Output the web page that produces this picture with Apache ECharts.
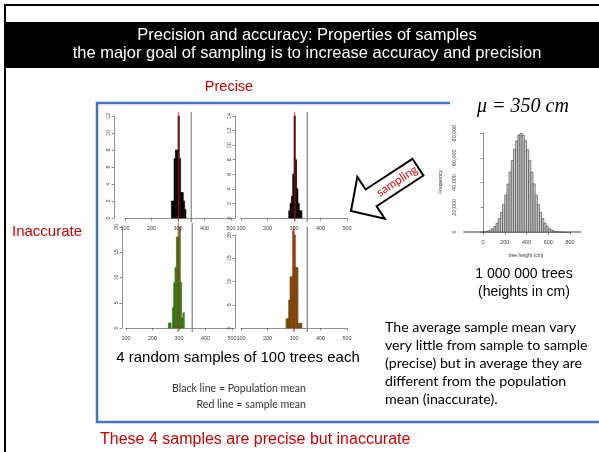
<!DOCTYPE html>
<html>
<head>
<meta charset="utf-8">
<script src="https://cdn.jsdelivr.net/npm/echarts@6/dist/echarts.min.js"></script>
<style>
  html, body { margin: 0; padding: 0; background: #fff; }
  #chart { width: 599px; height: 452px; }
</style>
</head>
<body>
<div id="chart"></div>
<script>
// sample histograms (4 random samples of 100 trees), bins of 5 cm
var sampleBins = [260, 265, 270, 275, 280, 285, 290, 295, 300, 305, 310, 315, 320, 325];
var sampleBinWidth = 5;
var countsTL = [0, 0, 0, 2, 2, 7, 8, 8, 12, 7, 3, 3, 2, 1];
var countsTR = [0, 0, 0, 0, 1, 2, 3, 6, 14, 8, 4, 2, 1, 1];
var countsBL = [1, 1, 0, 4, 9, 12, 18, 18, 20, 9, 2, 3, 0, 0];
var countsBR = [0, 0, 2, 2, 6, 11, 11, 21, 20, 13, 13, 1, 1, 1];
var sampleMeans = [302, 303, 297, 299];
var populationMean = 350;

// population histogram (1 000 000 trees), bins of 20 cm
var popBins = [-180, -160, -140, -120, -100, -80, -60, -40, -20, 0, 20, 40, 60, 80, 100, 120, 140, 160, 180, 200,
  220, 240, 260, 280, 300, 320, 340, 360, 380, 400, 420, 440, 460, 480, 500, 520, 540, 560, 580, 600,
  620, 640, 660, 680, 700, 720, 740, 760, 780, 800, 820, 840, 860, 880];
var popBinWidth = 20;
var popCounts = [0, 0, 0, 1, 2, 12, 27, 58, 120, 240, 470, 890, 1600, 2700, 4500, 7100, 10800, 15800, 22100, 29900,
  38800, 48500, 57800, 66800, 73600, 78300, 79600, 78200, 73800, 66600, 57900, 48300, 38900, 29800, 22100, 15800, 10800, 7100, 4500, 2700,
  1600, 890, 470, 240, 120, 58, 27, 12, 5, 2, 1, 0, 0, 0];

var sampleTicksX = [100, 500, 100];   // min, max, interval
var popTicksX = [0, 800, 200];

function histData(bins, counts, w) {
  return bins.map(function (b, i) { return [b, b + w, counts[i]]; });
}

function histSeries(idx, data, fill, stroke, keepEmpty) {
  return {
    type: 'custom', xAxisIndex: idx, yAxisIndex: idx, data: data, silent: true,
    renderItem: function (params, api) {
      if (!keepEmpty && api.value(2) === 0) return null;
      var p0 = api.coord([api.value(0), api.value(2)]);
      var p1 = api.coord([api.value(1), 0]);
      return {
        type: 'rect',
        shape: { x: p0[0], y: p0[1], width: p1[0] - p0[0], height: p1[1] - p0[1] },
        style: { fill: fill, stroke: stroke, lineWidth: 0.6 }
      };
    }
  };
}

function vline(idx, xv, ymax, color, width) {
  return {
    type: 'custom', xAxisIndex: idx, yAxisIndex: idx, silent: true,
    data: [[xv, -0.04 * ymax, 1.04 * ymax]],
    renderItem: function (params, api) {
      var a = api.coord([api.value(0), api.value(1)]);
      var b = api.coord([api.value(0), api.value(2)]);
      return {
        type: 'line',
        shape: { x1: a[0], y1: a[1], x2: b[0], y2: b[1] },
        style: { stroke: color, lineWidth: width }
      };
    }
  };
}

var axisCommon = {
  axisLine: { show: true, lineStyle: { color: '#444', width: 0.6 } },
  axisTick: { show: true, length: 2.5, lineStyle: { color: '#444', width: 0.6 } },
  splitLine: { show: false },
  axisLabel: { fontSize: 5.5, color: '#444', margin: 3, fontFamily: 'Liberation Sans' }
};

function xAx(idx, t, off) {
  return Object.assign({}, axisCommon, {
    type: 'value', gridIndex: idx, min: t[0], max: t[1], interval: t[2], offset: off
  });
}
function yAx(idx, max, interval, off) {
  var a = Object.assign({}, axisCommon, {
    type: 'value', gridIndex: idx, min: 0, max: max, interval: interval, offset: off
  });
  a.axisLabel = Object.assign({}, axisCommon.axisLabel, { rotate: 90 });
  return a;
}

var maxTL = Math.max.apply(null, countsTL);
var maxTR = Math.max.apply(null, countsTR);
var maxBL = Math.max.apply(null, countsBL);
var maxBR = Math.max.apply(null, countsBR);

var red = '#cc0000';
var txt = function (text, x, y, font, fill, align) {
  return { type: 'text', silent: true, style: { text: text, x: x, y: y, font: font, fill: fill || '#000',
    textAlign: align || 'left', textVerticalAlign: 'middle' } };
};

var blue = '#4472c4';
var arrowPts = [[0, 0], [24, -25], [24, -10], [80, -10], [80, 10], [24, 10], [24, 25]];
var meanRed = 'rgba(230,20,20,0.6)';

var option = {
  backgroundColor: '#fff',
  animation: false,
  grid: [
    { left: 125, top: 116, width: 106, height: 102 },
    { left: 241, top: 116, width: 106, height: 102 },
    { left: 126, top: 227, width: 106, height: 101 },
    { left: 241, top: 235, width: 106, height: 93 },
    { left: 483, top: 133, width: 87, height: 99 }
  ],
  xAxis: [
    xAx(0, sampleTicksX, 4), xAx(1, sampleTicksX, 4), xAx(2, sampleTicksX, 4), xAx(3, sampleTicksX, 4),
    xAx(4, popTicksX, 4)
  ],
  yAxis: [
    yAx(0, 12, 2, 11), yAx(1, 14, 2, 6), yAx(2, 20, 5, 4), yAx(3, 20, 5, 6), yAx(4, 80000, 20000, 23)
  ],
  series: [
    histSeries(0, histData(sampleBins, countsTL, sampleBinWidth), '#000', '#000'),
    histSeries(1, histData(sampleBins, countsTR, sampleBinWidth), '#000', '#000'),
    histSeries(2, histData(sampleBins, countsBL, sampleBinWidth), '#3e9a1c', '#245c0c'),
    histSeries(3, histData(sampleBins, countsBR, sampleBinWidth), '#8b5c0a', '#5c3a04'),
    histSeries(4, histData(popBins, popCounts, popBinWidth), '#cfcfcf', '#3a3a3a', true),
    vline(0, populationMean, maxTL, '#8a8a8a', 1.3),
    vline(1, populationMean, maxTR, '#8a8a8a', 1.3),
    vline(2, populationMean, maxBL, '#8a8a8a', 1.3),
    vline(3, populationMean, maxBR, '#8a8a8a', 1.3),
    vline(0, sampleMeans[0], maxTL, meanRed, 1.4),
    vline(1, sampleMeans[1], maxTR, meanRed, 1.4),
    vline(2, sampleMeans[2], maxBL, meanRed, 1.4),
    vline(3, sampleMeans[3], maxBR, meanRed, 1.4)
  ],
  graphic: [
    // slide frame and title bar
    { type: 'polyline', silent: true, shape: { points: [[5, 452], [5, 5], [599, 5]] }, style: { stroke: '#000', lineWidth: 2, fill: null } },
    { type: 'rect', silent: true, shape: { x: 5, y: 22, width: 594, height: 46 }, style: { fill: '#000' } },
    txt('Precision and accuracy: Properties of samples', 307, 35, '16.5px "Liberation Sans"', '#fff', 'center'),
    txt('the major goal of sampling is to increase accuracy and precision', 307, 53, '16.5px "Liberation Sans"', '#fff', 'center'),
    // blue frame
    { type: 'polyline', silent: true, shape: { points: [[450, 103], [97, 103], [97, 422], [599, 422]] }, style: { stroke: blue, lineWidth: 2.5, fill: null } },
    txt('Precise', 229, 87, '14.5px "Liberation Sans"', red, 'center'),
    txt('Inaccurate', 12, 232, '15px "Liberation Sans"', red, 'left'),
    txt('These 4 samples are precise but inaccurate', 100, 440, '16px "Liberation Sans"', red, 'left'),
    // population side
    txt('\u03bc = 350 cm', 523, 107, 'italic 20px "Liberation Serif"', '#000', 'center'),
    { type: 'text', silent: true, x: 441, y: 182, rotation: Math.PI / 2,
      style: { text: 'Frequency', font: '5px "Liberation Sans"', fill: '#333', textAlign: 'center', textVerticalAlign: 'middle' } },
    txt('tree height (cm)', 526, 256, '5px "Liberation Sans"', '#333', 'center'),
    txt('1 000 000 trees', 524, 274, '14px "Liberation Sans"', '#000', 'center'),
    txt('(heights in cm)', 524, 292, '14px "Liberation Sans"', '#000', 'center'),
    txt('The average sample mean vary', 385, 327, '14.2px Lato', '#000', 'left'),
    txt('very little from sample to sample', 385, 345, '14.2px Lato', '#000', 'left'),
    txt('(precise) but in average they are', 385, 363, '14.2px Lato', '#000', 'left'),
    txt('different from the population', 385, 381, '14.2px Lato', '#000', 'left'),
    txt('mean (inaccurate).', 385, 399, '14.2px Lato', '#000', 'left'),
    // sample captions
    txt('4 random samples of 100 trees each', 238, 358, '15px "Liberation Sans"', '#000', 'center'),
    txt('Black line = Population mean', 306, 389, '10.6px Lato', '#333', 'right'),
    txt('Red line = sample mean', 306, 405, '10.6px Lato', '#333', 'right'),
    // sampling arrow
    { type: 'polygon', silent: true, x: 351, y: 211, rotation: 0.58,
      shape: { points: arrowPts }, style: { fill: '#fff', stroke: '#000', lineWidth: 2 } },
    { type: 'text', silent: true, x: 397, y: 181, rotation: 0.58,
      style: { text: 'sampling', font: '12px Lato', fill: '#e00000', textAlign: 'center', textVerticalAlign: 'middle' } }
  ]
};

var chart = echarts.init(document.getElementById('chart'));
chart.setOption(option);
</script>
</body>
</html>
